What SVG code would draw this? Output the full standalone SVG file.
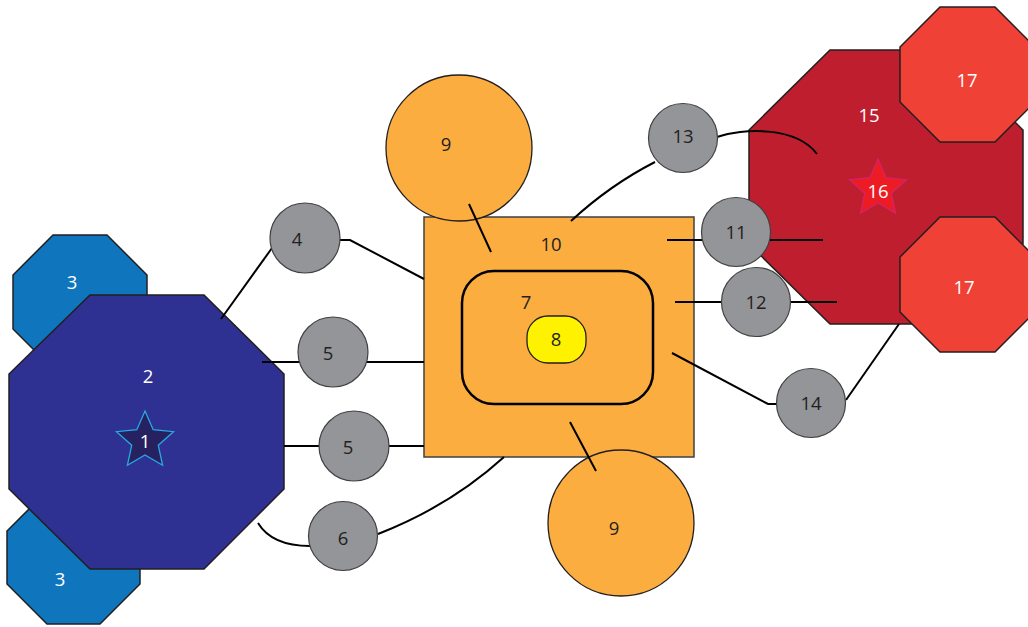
<svg xmlns="http://www.w3.org/2000/svg" width="1028" height="627" viewBox="0 0 1028 627">
<defs>
<style>
text{font-family:"Open Sans","Liberation Sans",sans-serif;font-size:18.5px;text-anchor:middle;dominant-baseline:central}
.w{fill:#ffffff}
.k{fill:#231f20}
.oct{stroke:#231f20;stroke-width:1.5}
.b2{fill:#2e3192}
.b3{fill:#0f75bc}
.r15{fill:#be1e2d}
.r17{fill:#ef4136}
.gc{fill:#939598;stroke:#414042;stroke-width:1.2}
.oc{fill:#fbad3f;stroke:#231f20;stroke-width:1.3}
.ln{fill:none;stroke:#000000;stroke-width:2}
</style>
<path id="star" d="M0,-30 L8.2,-11.3 L28.5,-9.3 L13.3,4.3 L17.6,24.3 L0,14 L-17.6,24.3 L-13.3,4.3 L-28.5,-9.3 L-8.2,-11.3 Z"/>
</defs>

<g id="node3a"><polygon class="oct b3" points="53,235 107,235 147,275 147,329 107,369 53,369 13,329 13,275"/><text class="w" x="72" y="281">3</text></g>
<g id="node3b"><polygon class="oct b3" points="47,491 100,491 140,531 140,584 100,624 47,624 7,584 7,531"/><text class="w" x="60" y="578">3</text></g>
<g id="node2"><polygon class="oct b2" points="90,295 204,295 284,374 284,489 204,569 90,569 9,489 9,374"/><text class="w" x="148" y="375">2</text></g>
<g id="node1"><use href="#star" transform="translate(145,441)" fill="#262262" stroke="#27aae1" stroke-width="1.3"/><text class="w" x="145" y="440">1</text></g>

<g id="node10"><rect x="424" y="217" width="270" height="240" fill="#fbad3f" stroke="#414042" stroke-width="1.5"/><text class="k" x="551" y="243">10</text></g>
<g id="node7"><rect x="462" y="271" width="191" height="133" rx="32" fill="#fbad3f" stroke="#000000" stroke-width="2.5"/><text class="k" x="526" y="301">7</text></g>
<g id="node8"><rect x="527" y="316" width="59" height="47" rx="21" fill="#fff200" stroke="#231f20" stroke-width="1.3"/><text class="k" x="556" y="338">8</text></g>
<g id="node9a"><circle class="oc" cx="459" cy="148" r="73"/><text class="k" x="446" y="143">9</text></g>
<g id="node9b"><circle class="oc" cx="621" cy="523" r="73"/><text class="k" x="614" y="527">9</text></g>

<g id="node15"><polygon class="oct r15" points="830,50 943,50 1023,130 1023,244 943,324 830,324 749,244 749,130"/><text class="w" x="869" y="114">15</text></g>
<g id="node16"><use href="#star" transform="translate(878,189)" fill="#ed1c24" stroke="#d2236b" stroke-width="1.3"/><text class="w" x="878" y="190">16</text></g>
<g id="node17a"><polygon class="oct r17" points="940,7 995,7 1035,47 1035,102 995,142 940,142 900,102 900,47"/><text class="w" x="967" y="79">17</text></g>
<g id="node17b"><polygon class="oct r17" points="940,217 995,217 1035,257 1035,312 995,352 940,352 900,312 900,257"/><text class="w" x="964" y="286">17</text></g>

<g id="connectors">
<polyline class="ln" points="221,319 272,248"/>
<polyline class="ln" points="340,240 350,240 424,279"/>
<line class="ln" x1="262" y1="362" x2="424" y2="362"/>
<line class="ln" x1="284" y1="446" x2="424" y2="446"/>
<path class="ln" d="M258,523 Q272,546 310,546"/>
<path class="ln" d="M378,534 Q450,506 504,457"/>
<line class="ln" x1="469" y1="204" x2="491" y2="252"/>
<line class="ln" x1="570" y1="422" x2="596" y2="471"/>
<path class="ln" d="M571,221 Q610,185 655,162"/>
<path class="ln" d="M717,137 C742,128 796,126 817,154"/>
<line class="ln" x1="667" y1="240" x2="823" y2="240"/>
<line class="ln" x1="675" y1="302" x2="837" y2="302"/>
<polyline class="ln" points="672,353 768,404 778,404"/>
<line class="ln" x1="846" y1="400" x2="899" y2="324"/>
</g>

<g id="node4"><circle class="gc" cx="305" cy="238" r="35"/><text class="k" x="297" y="238">4</text></g>
<g id="node5a"><circle class="gc" cx="333" cy="352" r="35"/><text class="k" x="328" y="352">5</text></g>
<g id="node5b"><circle class="gc" cx="354" cy="446" r="35"/><text class="k" x="348" y="446">5</text></g>
<g id="node6"><circle class="gc" cx="343" cy="536" r="34.5"/><text class="k" x="343" y="537">6</text></g>
<g id="node13"><circle class="gc" cx="683" cy="138" r="34.5"/><text class="k" x="683" y="135">13</text></g>
<g id="node11"><circle class="gc" cx="736" cy="232" r="34.5"/><text class="k" x="736" y="231">11</text></g>
<g id="node12"><circle class="gc" cx="756" cy="302" r="34.5"/><text class="k" x="756" y="301">12</text></g>
<g id="node14"><circle class="gc" cx="811" cy="403" r="34.5"/><text class="k" x="811" y="402">14</text></g>
</svg>
